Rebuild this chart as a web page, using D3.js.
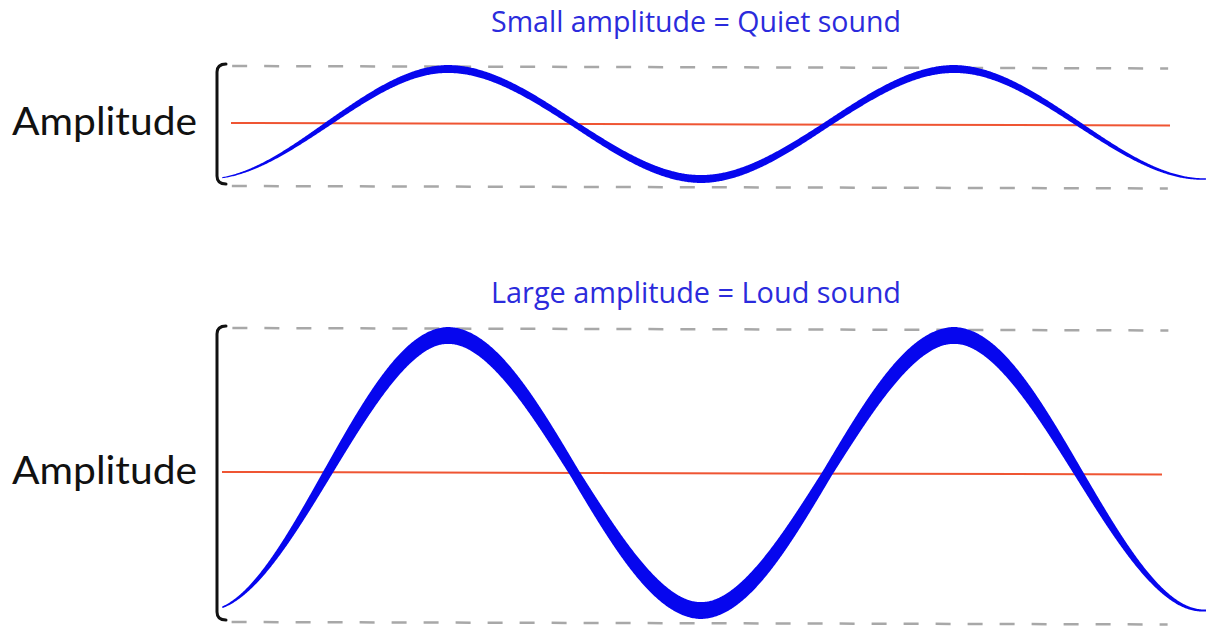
<!DOCTYPE html>
<html lang="en">
<head>
<meta charset="UTF-8">
<title>Amplitude: quiet vs loud sound</title>
<script src="https://cdn.jsdelivr.net/npm/d3@7"></script>
<style>
  body { margin: 0; background: #fff; overflow: hidden; }
  svg { display: block; }
  .label { font-family: Lato, "Open Sans", sans-serif; fill: #111; }
  .title { font-family: "Open Sans", sans-serif; fill: #2b2bdc; }
</style>
</head>
<body>
<script>
// time of each turning point of the wave (ms) and the signal value there;
// the first and last points lie outside the drawn window
const turnTimes = [-2.68, -0.15, 2.26, 4.79, 7.32, 9.81, 12.34];
const quietWave = [1, -1, 1, -1, 1, -1, 1];
const loudWave = [2.5, -2.5, 2.5, -2.5, 2.5, -2.5, 2.5];
const timeWindow = [0, 9.84];
const titles = ["Small amplitude = Quiet sound", "Large amplitude = Loud sound"];
const axisLabel = "Amplitude";

const width = 1206, height = 626;

// brush thickness: window start, crossings and turning points inside, window end
const quietBrush = [1, 5, 8, 6, 8, 6, 8, 5, 1.5, 1.5];
const loudBrush = [1.5, 9, 17, 10, 17, 10, 17, 9, 2, 2];

const panels = [
  { title: titles[0], values: quietWave, brush: quietBrush, mid: 124, titleY: 32, gx0: 231, gx1: 1170 },
  { title: titles[1], values: loudWave, brush: loudBrush, mid: 473, titleY: 303, gx0: 222, gx1: 1162 }
];

const blue = "#0606ee";

const svg = d3.select("body").append("svg")
  .attr("width", width)
  .attr("height", height);

const x = d3.scaleLinear().domain(timeWindow).range([222, 1206]);
const unit = 55; // px per amplitude unit, same for both panels

// where the brush profile is pinned
const inWin = t => t > timeWindow[0] && t < timeWindow[1];
const crossings = d3.pairs(turnTimes, (a, b) => (a + b) / 2);
const brushT = [timeWindow[0]]
  .concat(turnTimes.concat(crossings).filter(inWin).sort(d3.ascending))
  .concat([timeWindow[1]]);

panels.forEach(p => {
  const y = d3.scaleLinear().domain([-1, 1]).range([p.mid + unit, p.mid - unit]);
  const amp = d3.max(p.values);
  const peakHalf = d3.max(p.brush) / 2;
  const topY = y(amp) - peakHalf + 1;
  const botY = y(-amp) + peakHalf + 3;

  // title
  svg.append("text")
    .attr("class", "title")
    .attr("x", 696)
    .attr("y", p.titleY)
    .attr("text-anchor", "middle")
    .attr("font-size", 30)
    .attr("textLength", 410)
    .attr("lengthAdjust", "spacingAndGlyphs")
    .text(p.title);

  // left label
  svg.append("text")
    .attr("class", "label")
    .attr("x", 12)
    .attr("y", p.mid + 11)
    .attr("font-size", 39)
    .attr("textLength", 185)
    .attr("lengthAdjust", "spacingAndGlyphs")
    .text(axisLabel);

  // bracket
  const b0 = topY - 2, b1 = botY - 2;
  const br = d3.path();
  br.moveTo(226, b0);
  br.quadraticCurveTo(217, b0, 217, b0 + 8);
  br.lineTo(217, b1 - 8);
  br.quadraticCurveTo(217, b1, 226, b1);
  svg.append("path")
    .attr("d", br.toString())
    .attr("fill", "none")
    .attr("stroke", "#111")
    .attr("stroke-width", 3)
    .attr("stroke-linecap", "round");

  // guides, picture is tilted a touch
  const guides = svg.append("g")
    .attr("transform", `rotate(0.15, 222, ${p.mid})`);

  [topY, botY].forEach(gy => {
    guides.append("line")
      .attr("x1", 232).attr("x2", 1168)
      .attr("y1", gy).attr("y2", gy)
      .attr("stroke", "#a8a8a8")
      .attr("stroke-width", 2.5)
      .attr("stroke-dasharray", "15,17");
  });

  guides.append("line")
    .attr("x1", p.gx0).attr("x2", p.gx1)
    .attr("y1", y(0) - 1).attr("y2", y(0) - 1)
    .attr("stroke", "#ef5533")
    .attr("stroke-width", 2);

  // wave centreline through the turning points
  const line = d3.line()
    .x(d => x(d[0]))
    .y(d => y(d[1]))
    .curve(d3.curveMonotoneX);
  const pts = turnTimes.map((t, i) => [t, p.values[i]]);
  const guidePath = svg.append("path")
    .attr("d", line(pts))
    .attr("fill", "none")
    .attr("stroke", "none");

  const node = guidePath.node();
  const L = node.getTotalLength();
  const [xa, xb] = x.range();
  const samples = d3.range(0, L, 1).concat([L])
    .map(l => node.getPointAtLength(l))
    .filter(s => s.x >= xa - 0.5 && s.x <= xb + 0.5);
  guidePath.remove();

  const thick = d3.scaleLinear().domain(brushT.map(x)).range(p.brush).clamp(true);

  // offset both sides of the centreline to get a brush-like stroke
  const sideA = [], sideB = [];
  samples.forEach((s, i) => {
    const a = samples[Math.max(i - 1, 0)];
    const b = samples[Math.min(i + 1, samples.length - 1)];
    const dx = b.x - a.x, dy = b.y - a.y;
    const len = Math.hypot(dx, dy) || 1;
    const nx = -dy / len, ny = dx / len;
    const h = thick(s.x) / 2;
    sideA.push([s.x + nx * h, s.y + ny * h]);
    sideB.push([s.x - nx * h, s.y - ny * h]);
  });

  svg.append("path")
    .attr("d", d3.line()(sideA.concat(sideB.reverse())) + "Z")
    .attr("fill", blue);
});
</script>
</body>
</html>
